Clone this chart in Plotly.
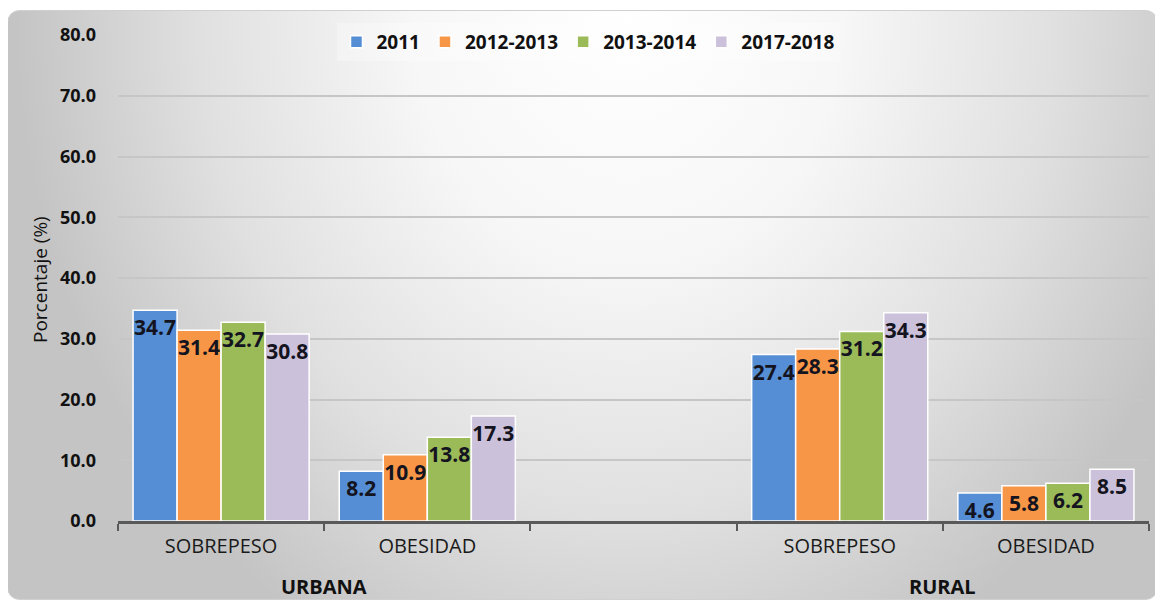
import base64
import plotly.graph_objects as go

# ---- data ----
categories = ["SOBREPESO", "OBESIDAD", "SOBREPESO\u200b", "OBESIDAD\u200b"]
axis_order = ["SOBREPESO", "OBESIDAD", "\u200b\u200b", "SOBREPESO\u200b", "OBESIDAD\u200b"]
series_names = ["2011", "2012-2013", "2013-2014", "2017-2018"]
v2011 = [34.7, 8.2, 27.4, 4.6]
v2012_2013 = [31.4, 10.9, 28.3, 5.8]
v2013_2014 = [32.7, 13.8, 31.2, 6.2]
v2017_2018 = [30.8, 17.3, 34.3, 8.5]
group_labels = ["URBANA", "RURAL"]
group_centers = [0.5, 3.5]
y_ticks = [0, 10, 20, 30, 40, 50, 60, 70, 80]

values = [v2011, v2012_2013, v2013_2014, v2017_2018]
colors = ["#558ED5", "#F79646", "#9BBB59", "#CCC1DA"]

FONT = "Open Sans"

fig = go.Figure()
for name, vals, col in zip(series_names, values, colors):
    fig.add_trace(go.Bar(
        x=categories, y=vals, name=name,
        marker=dict(color=col, line=dict(color="white", width=1.5)),
        text=[f"{v:.1f}" for v in vals],
        textposition="inside", insidetextanchor="end", textangle=0,
        constraintext="none",
        textfont=dict(family=FONT, size=21, color="#141420", weight="bold"),
    ))

# page body adds an 8px offset; work in figure pixels = screen pixels - 8
OFF = 8
FW, FH = 1163, 602
ml, mt = 118 - OFF, 35 - OFF
pw, ph = 1031, 486
mr = FW - ml - pw
mb = FH - mt - ph


def px_x(px):
    return (px - OFF - ml) / pw


def px_y(py):
    return (FH - mb - (py - OFF)) / ph


# background gradient (SVG)
W, H = 1151, 590
CX, CY = 620, 0
svg = f'''<svg xmlns="http://www.w3.org/2000/svg" width="{W}" height="{H}" viewBox="0 0 {W} {H}">
<defs><radialGradient id="g" gradientUnits="userSpaceOnUse" cx="{CX}" cy="{CY}" r="720"
 gradientTransform="translate({CX},{CY}) scale(0.85,1.0) translate({-CX},{-CY})">
<stop offset="0" stop-color="#ffffff"/>
<stop offset="0.35" stop-color="#f7f7f7"/>
<stop offset="0.7" stop-color="#e0e0e0"/>
<stop offset="1" stop-color="#c4c4c4"/>
</radialGradient></defs>
<rect x="0.5" y="0.5" width="{W-1}" height="{H-1}" rx="12" ry="12" fill="url(#g)" stroke="#d0d0d0" stroke-width="1"/>
</svg>'''
uri = "data:image/svg+xml;base64," + base64.b64encode(svg.encode()).decode()

fig.add_layout_image(dict(
    source=uri, xref="paper", yref="paper",
    x=px_x(7), y=px_y(10),
    sizex=W / pw, sizey=H / ph,
    xanchor="left", yanchor="top", sizing="stretch", layer="below",
))

for lab, xc in zip(group_labels, group_centers):
    fig.add_annotation(x=xc, xref="x", y=px_y(586), yref="paper", text=f"<b>{lab}</b>",
                       showarrow=False, font=dict(family=FONT, size=20, color="#111111"),
                       yanchor="middle")

fig.add_annotation(x=px_x(40), xref="paper", y=px_y(280), yref="paper",
                   text="Porcentaje (%)", textangle=-90, showarrow=False,
                   font=dict(family=FONT, size=19, color="#111111"),
                   xanchor="center", yanchor="middle")

fig.update_layout(
    width=FW, height=FH,
    margin=dict(l=ml, r=mr, t=mt, b=mb, autoexpand=False),
    paper_bgcolor="white", plot_bgcolor="rgba(0,0,0,0)",
    barmode="group", bargap=0.146, bargroupgap=0,
    font=dict(family=FONT, color="#111111"),
    legend=dict(orientation="h", xref="container", x=(588 - OFF) / FW, xanchor="center",
                yref="container", y=1 - (42 - OFF) / FH, yanchor="middle",
                bgcolor="rgba(255,255,255,0.3)",
                font=dict(family=FONT, size=19, color="#111111", weight="bold"),
                itemwidth=30, tracegroupgap=0),
    xaxis=dict(type="category", categoryorder="array", categoryarray=axis_order,
               range=[-0.5, 4.5], tickson="boundaries", ticks="outside", ticklen=7,
               tickwidth=2, tickcolor="#595959", showline=True, linecolor="#595959",
               linewidth=2.5, showgrid=False, automargin=False, ticklabelstandoff=5,
               tickfont=dict(family=FONT, size=20, color="#1a1a1a")),
    yaxis=dict(range=[0, 80], tickvals=y_ticks, tickformat=".1f",
               showgrid=True, gridcolor="#c6c6c6", gridwidth=1.5, zeroline=False,
               ticks="", ticklabelstandoff=21, automargin=False,
               tickfont=dict(family=FONT, size=18, color="#111111", weight="bold")),
)

fig.write_html("out.html")
